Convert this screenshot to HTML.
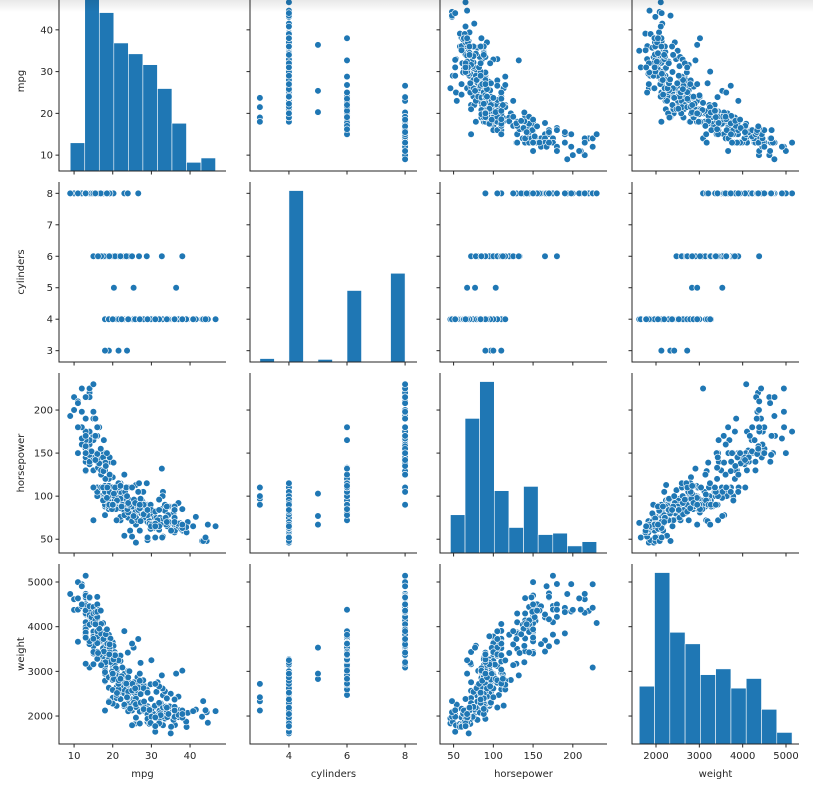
<!DOCTYPE html>
<html><head><meta charset="utf-8">
<style>
html,body{margin:0;padding:0;background:#fff;}
#wrap{position:relative;width:813px;height:785px;overflow:hidden;}
#shade{position:absolute;left:0;top:0;width:813px;height:12px;background:linear-gradient(rgba(0,0,0,0.09),rgba(0,0,0,0));pointer-events:none;}
text{font-family:"DejaVu Sans","Liberation Sans",sans-serif;fill:#262626;}
</style></head>
<body>
<div id="wrap">
<svg id="chart" width="813" height="785"></svg>
<div id="shade"></div>
</div>
<script>
// ---- data (mpg, cylinders, horsepower, weight) ----
const vars = ["mpg","cylinders","horsepower","weight"];
const cars = [
[18,8,130,3504],[15,8,165,3693],[18,8,150,3436],[16,8,150,3433],[17,8,140,3449],[15,8,198,4341],[14,8,220,4354],[14,8,215,4312],[14,8,225,4425],[15,8,190,3850],[15,8,170,3563],[14,8,160,3609],[15,8,150,3761],[14,8,225,3086],[24,4,95,2372],[22,6,95,2833],[18,6,97,2774],[21,6,85,2587],[27,4,88,2130],[26,4,46,1835],[25,4,87,2672],[24,4,90,2430],[25,4,95,2375],[26,4,113,2234],[21,6,90,2648],[10,8,215,4615],[10,8,200,4376],[11,8,210,4382],[9,8,193,4732],[28,4,90,2264],[25,4,95,2228],[19,6,100,2634],[16,6,105,3439],[17,6,100,3329],[19,6,88,3302],[18,6,100,3288],[14,8,165,4209],[14,8,175,4464],[14,8,153,4154],[14,8,150,4096],[12,8,180,4955],[13,8,170,4746],[13,8,175,5140],[18,6,110,2962],[22,4,72,2408],[19,6,100,3282],[18,6,88,3139],[23,4,86,2220],[28,4,90,2123],[30,4,70,2074],[30,4,76,2065],[31,4,65,1773],[35,4,69,1613],[27,4,60,1834],[26,4,70,1955],[24,4,95,2278],[25,4,80,2126],[23,4,54,2254],[20,4,90,2408],[21,4,86,2226],[13,8,165,4274],[14,8,175,4385],[15,8,150,4135],[14,8,153,4129],[17,8,150,3672],[11,8,208,4633],[13,8,155,4502],[12,8,160,4456],[13,8,190,4422],[19,3,97,2330],[15,8,150,3892],[13,8,130,4098],[13,8,140,4294],[14,8,150,4077],[18,4,112,2933],[22,4,76,2511],[21,4,87,2979],[26,4,69,2189],[22,4,86,2395],[28,4,92,2288],[23,4,97,2506],[28,4,88,2164],[27,4,88,2100],[13,8,175,4100],[14,8,150,3672],[13,8,145,3988],[14,8,137,4042],[15,8,150,3777],[12,8,198,4952],[13,8,150,4464],[13,8,158,4363],[14,8,150,4237],[13,8,215,4735],[12,8,225,4951],[13,8,175,3821],[18,6,105,3121],[16,6,100,3278],[18,6,100,2945],[18,6,88,3021],[23,6,95,2904],[26,4,46,1950],[11,8,150,4997],[12,8,167,4906],[13,8,170,4654],[12,8,180,4499],[18,6,100,2789],[20,4,88,2279],[21,4,72,2401],[22,4,94,2379],[18,3,90,2124],[19,4,85,2310],[21,6,107,2472],[26,4,90,2265],[15,8,230,4082],[16,8,150,4220],[29,4,49,1867],[24,4,75,2158],[20,4,91,2582],[19,4,112,2868],[15,8,150,3399],[24,4,110,2660],[20,6,122,2807],[11,8,180,3664],[20,6,95,3102],[21,6,100,2901],[19,6,100,3336],[32,4,67,1950],[26,4,80,2451],[25,4,75,2542],[16,6,100,3781],[16,6,110,3632],[18,6,105,3613],[16,8,140,4141],[13,8,150,4699],[14,8,150,4457],[14,8,140,4638],[14,8,150,4257],[29,4,83,2219],[26,4,67,1963],[26,4,78,2300],[31,4,52,1649],[32,4,61,2003],[28,4,75,2125],[24,4,75,2108],[26,4,75,2246],[24,4,97,2489],[26,4,93,2391],[31,4,67,2000],[19,6,95,3264],[18,6,105,3459],[15,6,72,3432],[15,6,72,3158],[16,8,170,4668],[15,8,145,4440],[16,8,150,4498],[14,8,148,4657],[17,6,110,3907],[16,6,105,3897],[15,6,110,3730],[18,6,95,3785],[21,6,110,3039],[20,8,110,3221],[13,8,129,3169],[29,4,75,2171],[23,4,83,2639],[20,6,100,2914],[23,4,78,2592],[24,4,96,2702],[25,4,71,2223],[24,4,97,2545],[18,6,97,2984],[29,4,90,1937],[19,6,95,3211],[23,4,88,2740],[23,4,98,2945],[22,4,115,2671],[25,4,53,1795],[33,4,86,2464],[28,4,81,2220],[25,4,92,2572],[25,4,79,2255],[26,4,83,2202],
[17.5,8,140,4080],[16,8,150,4190],[15.5,8,170,4165],[14.5,8,152,4215],[22,6,100,3233],[22,6,105,3353],[24,6,81,3012],[22.5,6,90,3085],[29,4,52,2035],[24.5,4,60,2164],[29,4,70,1937],[33,4,53,1795],[20,6,100,3651],[18,6,78,3574],[18.5,6,110,3645],[17.5,6,95,3193],[29.5,4,71,1825],[32,4,70,1990],[28,4,75,2155],[26.5,4,72,2565],[20,4,102,3150],[13,8,150,3940],[19,4,88,3270],[19,6,120,3820],[16.5,6,180,4380],[16.5,8,145,4055],[13,8,130,3870],[13,8,150,3755],[31.5,4,68,2045],[30,4,80,2155],[36,4,58,1825],[25.5,4,96,2300],[33.5,4,70,1945],[17.5,8,145,3880],[17,8,110,4060],[15.5,8,145,4140],[15,8,130,4295],[17.5,6,110,3520],[20.5,6,105,3425],[19,6,100,3630],[18.5,6,98,3525],[16,8,180,4220],[15.5,8,190,4325],[16,8,149,4335],[29,4,78,1940],[24.5,4,88,2740],[26,4,75,2265],[25.5,4,89,2755],[30.5,4,63,2051],[33.5,4,83,2075],[30,4,67,1985],[30.5,4,78,2190],[22,6,97,2815],[21.5,4,110,2600],[21.5,3,110,2720],[43.1,4,48,1985],[36.1,4,66,1800],[32.8,4,52,1985],[39.4,4,70,2070],[36.1,4,60,1800],[19.9,8,110,3365],[19.4,8,140,3735],[20.2,8,139,3570],[19.2,6,105,3535],[20.5,6,95,3155],[20.2,6,85,2965],[25.1,4,88,2720],[20.5,6,100,3430],[19.4,6,90,3210],[20.6,6,105,3380],[20.8,6,85,3070],[18.6,6,110,3620],[18.1,6,120,3410],[19.2,8,145,3425],[17.7,6,165,3445],[18.1,8,139,3205],[30,4,68,2155],[27.5,4,95,2560],[27.2,4,97,2300],[30.9,4,75,2230],[21.1,4,95,2515],[23.2,4,105,2745],[23.8,4,85,2855],[23.9,4,90,2405],[20.3,5,103,2830],[17,6,125,3140],[21.6,4,115,2795],[16.2,6,133,3410],[31.5,4,71,1990],[29.5,4,68,2135],[21.5,6,115,3245],[19.8,6,85,2990],[22.3,4,88,2890],[20.2,6,90,3265],[20.6,6,110,3360],[17,8,130,3840],[17.6,8,129,3725],[16.5,8,138,3955],[18.2,8,135,3830],[16.9,8,155,4360],[15.5,8,142,4054],[19.2,8,125,3605],[18.5,8,150,3940],[31.9,4,71,1925],[34.1,4,65,1975],[35.7,4,80,1915],[27.4,4,80,2670],[25.4,5,77,3530],[23,8,125,3900],[27.2,4,71,3190],[23.9,8,90,3420],[34.2,4,70,2200],[34.5,4,70,2150],[31.8,4,65,2020],[37.3,4,69,2130],[28.4,4,90,2670],[28.8,6,115,2595],[26.8,6,115,2700],[33.5,4,90,2556],[41.5,4,76,2144],[38.1,4,60,1968],[32.1,4,70,2120],[37.2,4,65,2019],[28,4,90,2678],[26.4,4,88,2870],[24.3,4,90,3003],[19.1,6,90,3381],[34.3,4,78,2188],[29.8,4,90,2711],[31.3,4,75,2542],[37,4,92,2434],[32.2,4,75,2265],[46.6,4,65,2110],[27.9,4,105,2800],[40.8,4,65,2110],[44.3,4,48,2085],[43.4,4,48,2335],[36.4,5,67,2950],[30,4,67,3250],[44.6,4,67,1850],[33.8,4,67,2145],[29.8,4,62,1845],[32.7,6,132,2910],[23.7,3,100,2420],[35,4,88,2500],[32.4,4,72,2290],[27.2,4,84,2490],[26.6,4,84,2635],[25.8,4,92,2620],[23.5,6,110,2725],[30,4,84,2385],[39.1,4,58,1755],[39,4,64,1875],[35.1,4,60,1760],[32.3,4,67,2065],[37,4,65,1975],[37.7,4,62,2050],[34.1,4,88,2395],[34.7,4,88,2215],[34.4,4,88,2045],[29.9,4,65,2380],[33,4,105,2190],[33.7,4,75,2210],[32.4,4,67,2020],[32.9,4,100,2615],[31.6,4,72,2755],[28.1,4,80,2325],[25,6,110,3620],[36,4,74,1980],[37,4,68,2025],[31,4,68,1970],[38,4,63,2125],[36,4,88,2160],[36,4,75,2205],[36,4,70,2125],[34,4,88,2395],[38,6,85,3015],[26.6,8,105,3725],[32,4,96,2665],[28,4,79,2625],[31,4,82,2720],[27,4,86,2790],[44,4,52,2130],[32,4,84,2295],[22,6,112,2835],[20,4,90,2950],[24,4,92,2865],[36,4,84,2370],[27,4,90,2950],[29,4,84,2525],[34,4,70,2188],[38,4,67,1965],[32,4,65,1836],[38,4,67,2045],[31,4,65,1773]
];
// histogram counts (10 bins each)
const mpgCounts = [13,79,73,59,54,49,38,22,4,6];
const cylCounts = [4,0,199,0,3,0,83,0,0,103];
const hpCounts = [27,95,121,44,18,47,13,14,5,8];
const wtCounts = [30,89,58,52,36,39,29,34,18,6];
const histCounts = [mpgCounts, cylCounts, hpCounts, wtCounts];
const binRanges = [[9,46.6],[3,8],[46,230],[1613,5140]];
// tick values
const mpgTicks = [10,20,30,40];
const cylTicksY = [3,4,5,6,7,8];
const cylTicksX = [4,6,8];
const hpTicks = [50,100,150,200];
const wtTicks = [2000,3000,4000,5000];
const xTicks = [mpgTicks, cylTicksX, hpTicks, wtTicks];
const yTicks = [mpgTicks, cylTicksY, hpTicks, wtTicks];

// ---- layout ----
const colL = [59,250,440,632], colW = 167;
const rowT = [-9,182,373,564], rowH = 180;
const xDom = [[6.1,49.3],[2.66,8.41],[32.9,243],[1446,5300]];
const yDom = [[6.2,49.3],[2.64,8.36],[34,243],[1374,5403]];
const NS = "http://www.w3.org/2000/svg";
const svg = document.getElementById('chart');
function mk(tag, attrs, parent){const e=document.createElementNS(NS,tag);for(const k in attrs)e.setAttribute(k,attrs[k]);(parent||svg).appendChild(e);return e;}
function xs(j,v){const d=xDom[j];return colL[j]+(v-d[0])/(d[1]-d[0])*colW;}
function ys(i,v){const d=yDom[i];return rowT[i]+rowH-(v-d[0])/(d[1]-d[0])*rowH;}

for(let i=0;i<4;i++){
  for(let j=0;j<4;j++){
    const g = mk('g',{});
    
    
    const bot = rowT[i]+rowH;
    if(i===j){
      const c = histCounts[i], r = binRanges[i], w=(r[1]-r[0])/c.length;
      const mx = Math.max(...c)*1.05;
      c.forEach((n,k)=>{
        if(n<=0) return;
        const x0=xs(j,r[0]+k*w), x1=xs(j,r[0]+(k+1)*w);
        const h=n/mx*rowH;
        const b=mk('rect',{x:x0,y:bot-h,width:x1-x0,height:h,fill:'#1f77b4',stroke:'#ffffff','stroke-width':0.6},g);
        
        
      });
    } else {
      cars.forEach((d,k)=>{
        const p=mk('circle',{cx:xs(j,d[j]),cy:ys(i,d[i]),r:3.3,fill:'#1f77b4',stroke:'#ffffff','stroke-width':0.6},g);
        
        
      });
    }
    const sp=mk('path',{d:`M${colL[j]},${rowT[i]}V${bot}H${colL[j]+colW}`,stroke:'#262626','stroke-width':1,fill:'none'},g);
    
    
    xTicks[j].forEach(t=>{
      const x=xs(j,t);
      mk('line',{x1:x,x2:x,y1:bot,y2:bot+3.5,stroke:'#262626','stroke-width':1},g);
      if(i===3){
        const tl=mk('text',{x:x,y:bot+15,'font-size':10,'text-anchor':'middle'},g);
        tl.textContent=t;
        
        
      }
    });
    yTicks[i].forEach(t=>{
      const y=ys(i,t);
      mk('line',{x1:colL[j]-3.5,x2:colL[j],y1:y,y2:y,stroke:'#262626','stroke-width':1},g);
      if(j===0){
        const tl=mk('text',{x:colL[j]-6,y:y+3.5,'font-size':10,'text-anchor':'end'},g);
        tl.textContent=t;
        
        
      }
    });
  }
  const cy=rowT[i]+rowH/2;
  const yt=mk('text',{x:0,y:0,'font-size':10,'text-anchor':'middle',transform:`translate(24,${cy}) rotate(-90)`});
  yt.textContent=vars[i];
  
  
  const xt=mk('text',{x:colL[i]+colW/2,y:777,'font-size':10,'text-anchor':'middle'});
  xt.textContent=vars[i];
  
  
}
</script>
</body></html>
